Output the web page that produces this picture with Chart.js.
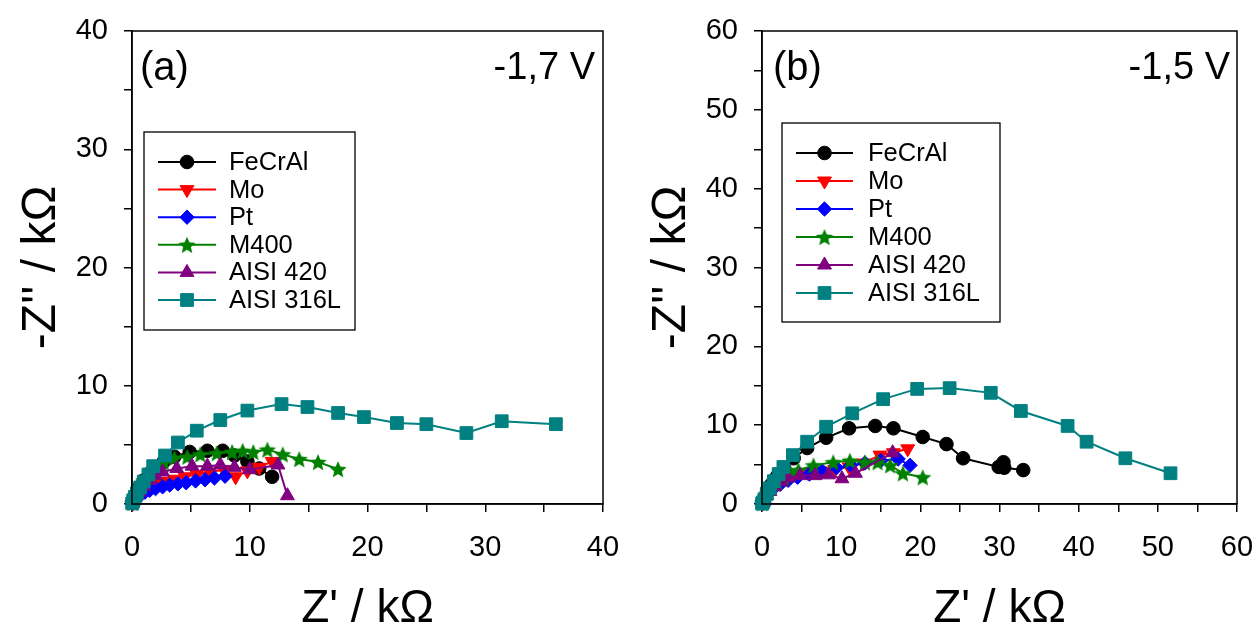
<!DOCTYPE html>
<html>
<head>
<meta charset="utf-8">
<title>Nyquist plots</title>
<script src="https://cdn.jsdelivr.net/npm/chart.js@4.4.1/dist/chart.umd.min.js"></script>
<style>
  html, body { margin: 0; padding: 0; background: #fff; }
  #wrap { position: relative; width: 1259px; height: 630px; overflow: hidden; }
  .panel { position: absolute; top: 0; height: 630px; }
  #pa { left: 0; width: 630px; }
  #pb { left: 630px; width: 629px; }
</style>
</head>
<body>
<div id="wrap">
  <div class="panel" id="pa"><canvas id="ca"></canvas></div>
  <div class="panel" id="pb"><canvas id="cb"></canvas></div>
</div>
<script>
// Series names (legend order)
const seriesNames = ['FeCrAl', 'Mo', 'Pt', 'M400', 'AISI 420', 'AISI 316L'];

// Panel (a), -1,7 V : Z' (kΩ) and -Z'' (kΩ)
const aFeCrAlX = [0.05, 0.15, 0.3, 0.6, 1.0, 1.5, 2.0, 2.7, 3.6, 4.9, 6.4, 7.7, 8.7, 9.8, 10.8, 11.9];
const aFeCrAlY = [0.1, 0.4, 0.8, 1.4, 2.0, 2.6, 3.1, 3.6, 4.0, 4.4, 4.5, 4.5, 4.1, 3.6, 3.0, 2.3];
const aMoX = [0.05, 0.15, 0.3, 0.6, 1.0, 1.5, 2.1, 2.8, 3.6, 4.5, 5.5, 6.6, 7.8, 8.8, 9.8, 10.8, 11.9];
const aMoY = [0.05, 0.25, 0.5, 0.9, 1.2, 1.5, 1.7, 1.9, 2.1, 2.3, 2.5, 2.7, 2.9, 2.3, 2.8, 3.1, 3.6];
const aPtX = [0.03, 0.1, 0.2, 0.35, 0.55, 0.8, 1.1, 1.5, 2.0, 2.6, 3.2, 3.9, 4.6, 5.4, 6.2, 7.0, 7.9];
const aPtY = [0.05, 0.2, 0.35, 0.5, 0.7, 0.85, 1.0, 1.15, 1.3, 1.45, 1.6, 1.7, 1.8, 1.95, 2.05, 2.2, 2.35];
const aM400X = [0.05, 0.15, 0.3, 0.6, 1.0, 1.5, 2.0, 2.7, 3.6, 4.7, 5.8, 7.2, 8.5, 9.4, 10.3, 11.5, 12.8, 14.2, 15.8, 17.5];
const aM400Y = [0.1, 0.35, 0.8, 1.4, 2.0, 2.6, 3.0, 3.5, 3.9, 4.0, 4.2, 4.3, 4.4, 4.5, 4.4, 4.6, 4.2, 3.8, 3.55, 2.95];
const aAisi420X = [0.05, 0.15, 0.3, 0.6, 1.0, 1.5, 2.0, 2.6, 3.8, 5.1, 6.4, 7.5, 8.7, 10.0, 12.4, 13.2];
const aAisi420Y = [0.05, 0.25, 0.6, 1.0, 1.5, 2.0, 2.4, 2.7, 3.0, 3.2, 3.2, 3.3, 3.1, 2.9, 3.3, 0.7];
const aAisi316LX = [0.02, 0.1, 0.25, 0.42, 0.7, 1.0, 1.4, 1.8, 2.8, 3.9, 5.5, 7.5, 9.8, 12.7, 14.9, 17.5, 19.7, 22.5, 25.0, 28.4, 31.4, 36.0];
const aAisi316LY = [0.05, 0.3, 0.6, 0.9, 1.4, 1.9, 2.5, 3.2, 4.1, 5.2, 6.2, 7.1, 7.9, 8.45, 8.2, 7.7, 7.35, 6.85, 6.75, 6.0, 7.0, 6.75];

// Panel (b), -1,5 V : Z' (kΩ) and -Z'' (kΩ)
const bFeCrAlX = [0.05, 0.15, 0.3, 0.7, 1.2, 1.9, 2.8, 4.0, 5.7, 8.1, 11.0, 14.3, 16.6, 20.3, 23.3, 25.4, 29.9, 30.5, 30.6, 33.0];
const bFeCrAlY = [0.1, 0.3, 0.7, 1.5, 2.5, 3.5, 4.5, 5.8, 7.1, 8.4, 9.6, 9.9, 9.6, 8.5, 7.6, 5.8, 4.7, 5.3, 4.6, 4.3];
const bMoX = [0.05, 0.2, 0.4, 0.8, 1.4, 2.2, 3.2, 4.4, 5.8, 7.4, 9.2, 11.0, 12.8, 14.9, 16.6, 18.4];
const bMoY = [0.1, 0.4, 0.8, 1.5, 2.2, 2.8, 3.3, 3.7, 4.0, 4.2, 4.4, 4.7, 5.2, 6.2, 6.5, 7.0];
const bPtX = [0.05, 0.2, 0.5, 0.9, 1.5, 2.3, 3.3, 4.5, 6.0, 7.6, 9.4, 11.2, 13.0, 15.0, 17.2, 18.7];
const bPtY = [0.1, 0.4, 0.9, 1.4, 2.0, 2.5, 3.0, 3.4, 3.8, 4.2, 4.6, 4.9, 5.2, 5.5, 5.7, 4.9];
const bM400X = [0.05, 0.15, 0.3, 0.7, 1.2, 1.9, 2.8, 3.6, 4.6, 6.5, 9.0, 11.1, 13.0, 14.6, 16.2, 17.8, 20.3];
const bM400Y = [0.1, 0.25, 0.7, 1.4, 2.1, 2.8, 3.4, 3.9, 4.3, 4.9, 5.3, 5.5, 5.3, 5.3, 4.9, 3.9, 3.4];
const bAisi420X = [0.05, 0.15, 0.3, 0.6, 1.0, 1.6, 2.4, 3.3, 4.8, 6.7, 8.4, 10.1, 11.8, 16.5];
const bAisi420Y = [0.05, 0.2, 0.6, 1.1, 1.6, 2.2, 2.8, 3.3, 3.6, 3.6, 3.7, 3.2, 3.9, 6.5];
const bAisi316LX = [0.02, 0.1, 0.3, 0.6, 1.0, 1.5, 2.1, 2.7, 3.9, 5.7, 8.1, 11.4, 15.3, 19.6, 23.7, 28.9, 32.7, 38.6, 41.0, 45.9, 51.6];
const bAisi316LY = [0.05, 0.2, 0.6, 1.3, 2.0, 2.9, 3.8, 4.7, 6.2, 7.9, 9.8, 11.5, 13.3, 14.6, 14.7, 14.1, 11.8, 9.9, 7.9, 5.8, 3.9];

// Axis ranges and tick labels
const aXMax = 40, aYMax = 40;
const bXMax = 60, bYMax = 60;
const tickStep = 5;
const xTitle = "Z' / kΩ";
const yTitle = "-Z'' / kΩ";
const panelLabels = ['(a)', '(b)'];
const potentialLabels = ['-1,7 V', '-1,5 V'];

const FONT = "'Liberation Sans', Arial, Helvetica, sans-serif";
Chart.defaults.font.family = FONT;
Chart.defaults.color = '#000';

// Filled five-point star marker
function starMarker(color, size) {
  const c = document.createElement('canvas');
  c.width = size; c.height = size;
  const g = c.getContext('2d');
  const cx = size / 2, cy = size / 2 + size * 0.05, R = size / 2, r = R * 0.45;
  g.fillStyle = color;
  g.beginPath();
  for (let i = 0; i < 10; i++) {
    const rad = i % 2 ? r : R;
    const ang = -Math.PI / 2 + i * Math.PI / 5;
    g.lineTo(cx + rad * Math.cos(ang), cy + rad * Math.sin(ang));
  }
  g.closePath();
  g.fill();
  return c;
}

const seriesStyles = [
  { color: '#000000', pointStyle: 'circle', radius: 6.8, rotation: 0 },
  { color: '#ff0000', pointStyle: 'triangle', radius: 8, rotation: 180 },
  { color: '#0000ff', pointStyle: 'rectRot', radius: 7.2, rotation: 0 },
  { color: '#008000', pointStyle: starMarker('#008000', 18), radius: 8, rotation: 0 },
  { color: '#800080', pointStyle: 'triangle', radius: 8, rotation: 0 },
  { color: '#008080', pointStyle: 'rect', radius: 9, rotation: 0 }
];

function toPoints(xs, ys) {
  return xs.map((x, i) => ({ x: x, y: ys[i] }));
}

function buildDatasets(pairs) {
  return pairs.map((p, i) => {
    const s = seriesStyles[i];
    return {
      label: seriesNames[i],
      data: toPoints(p[0], p[1]),
      showLine: true,
      borderColor: s.color,
      backgroundColor: s.color,
      borderWidth: 2,
      pointStyle: s.pointStyle,
      pointRadius: s.radius,
      pointRotation: s.rotation,
      pointBorderWidth: 1,
      pointBorderColor: s.color,
      pointBackgroundColor: s.color,
      pointHoverRadius: s.radius,
      clip: false,
      order: seriesNames.length - 1 - i
    };
  });
}

// Frame, boxed legend and panel captions
const panelDecor = {
  id: 'panelDecor',
  afterDraw(chart, args, opts) {
    const ctx = chart.ctx;
    const a = chart.chartArea;
    ctx.save();
    ctx.strokeStyle = '#000';
    ctx.lineWidth = 1.5;
    ctx.strokeRect(a.left, a.top, a.right - a.left, a.bottom - a.top);

    // captions
    ctx.fillStyle = '#000';
    ctx.textBaseline = 'middle';
    ctx.textAlign = 'left';
    ctx.font = '40px ' + FONT;
    ctx.fillText(opts.panel, a.left + opts.panelDx, a.top + 38);
    ctx.textAlign = 'right';
    ctx.font = '38px ' + FONT;
    ctx.fillText(opts.potential, a.right - opts.potentialDx, a.top + 38);

    // legend box
    const L = opts.legend;
    ctx.fillStyle = '#fff';
    ctx.fillRect(L.left, L.top, L.right - L.left, L.bottom - L.top);
    ctx.lineWidth = 1.3;
    ctx.strokeStyle = '#000';
    ctx.strokeRect(L.left, L.top, L.right - L.left, L.bottom - L.top);
    ctx.font = L.fontSize + 'px ' + FONT;
    ctx.textAlign = 'left';
    ctx.textBaseline = 'middle';
    chart.data.datasets.forEach((ds, i) => {
      const y = L.firstRow + i * L.rowGap;
      const s = seriesStyles[i];
      ctx.strokeStyle = s.color;
      ctx.lineWidth = 2;
      ctx.beginPath();
      ctx.moveTo(L.lineX0, y);
      ctx.lineTo(L.lineX1, y);
      ctx.stroke();
      ctx.fillStyle = s.color;
      ctx.lineWidth = 1;
      Chart.helpers.drawPoint(ctx, {
        pointStyle: s.pointStyle, rotation: s.rotation, radius: s.radius, borderWidth: 1
      }, (L.lineX0 + L.lineX1) / 2, y);
      ctx.fillStyle = '#000';
      ctx.fillText(ds.label, L.textX, y + 1);
    });
    ctx.restore();
  }
};

function axisOptions(max, isX) {
  const o = {
    type: 'linear',
    min: 0,
    max: max,
    ticks: {
      stepSize: tickStep,
      autoSkip: false,
      maxRotation: 0,
      color: '#000',
      font: { size: 29 },
      padding: isX ? 19 : 16,
      callback: v => (v % 10 === 0 ? String(v) : '')
    },
    grid: {
      display: true,
      drawOnChartArea: false,
      drawTicks: true,
      tickLength: 8,
      color: '#000',
      lineWidth: 1.5
    },
    border: { display: true, color: '#000', width: 1.5 },
    title: {
      display: true,
      text: isX ? xTitle : yTitle,
      color: '#000',
      font: { size: isX ? 46 : 48, lineHeight: isX ? 0.9 : 1 },
      padding: isX ? { top: 0, bottom: 0 } : { top: 18, bottom: 0 }
    }
  };
  // fixed axis band sizes so the plot area sits at the same place in both panels
  if (isX) o.afterFit = s => { s.height = 126; s.paddingLeft = 0; s.paddingRight = 0; };
  else o.afterFit = s => { s.width = 132; s.paddingTop = 0; s.paddingBottom = 0; };
  return o;
}

function makeChart(id, datasets, xMax, yMax, padRight, decor) {
  return new Chart(document.getElementById(id), {
    type: 'scatter',
    data: { datasets: datasets },
    options: {
      responsive: true,
      maintainAspectRatio: false,
      animation: false,
      events: [],
      layout: { padding: { top: 31, right: padRight, bottom: 0, left: 0 } },
      plugins: {
        legend: { display: false },
        tooltip: { enabled: false },
        panelDecor: decor
      },
      scales: {
        x: axisOptions(xMax, true),
        y: axisOptions(yMax, false)
      }
    },
    plugins: [panelDecor]
  });
}

makeChart('ca', buildDatasets([
  [aFeCrAlX, aFeCrAlY], [aMoX, aMoY], [aPtX, aPtY],
  [aM400X, aM400Y], [aAisi420X, aAisi420Y], [aAisi316LX, aAisi316LY]
]), aXMax, aYMax, 27, {
  panel: panelLabels[0], potential: potentialLabels[0], panelDx: 8, potentialDx: 8,
  legend: { left: 144, top: 132, right: 355, bottom: 330, firstRow: 162, rowGap: 27.6,
            lineX0: 158, lineX1: 216, textX: 229, fontSize: 25.5 }
});

makeChart('cb', buildDatasets([
  [bFeCrAlX, bFeCrAlY], [bMoX, bMoY], [bPtX, bPtY],
  [bM400X, bM400Y], [bAisi420X, bAisi420Y], [bAisi316LX, bAisi316LY]
]), bXMax, bYMax, 22, {
  panel: panelLabels[1], potential: potentialLabels[1], panelDx: 11, potentialDx: 7,
  legend: { left: 152, top: 123, right: 370, bottom: 322, firstRow: 153, rowGap: 28,
            lineX0: 166, lineX1: 223, textX: 238, fontSize: 25.5 }
});
</script>
</body>
</html>
